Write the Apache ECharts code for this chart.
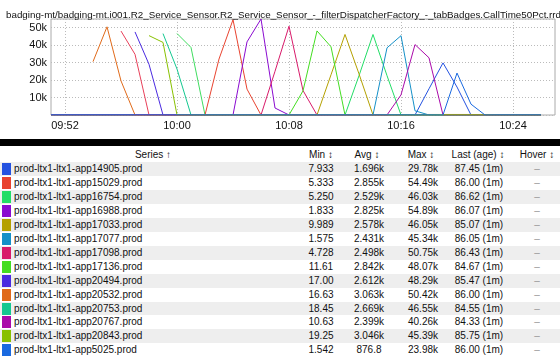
<!DOCTYPE html>
<html><head><meta charset="utf-8">
<script src="https://cdn.jsdelivr.net/npm/echarts@6/dist/echarts.min.js"></script>
<style>
html,body{margin:0;padding:0;width:560px;height:357px;overflow:hidden;background:#fff;font-family:"Liberation Sans",Arial,sans-serif;}
#chart{position:absolute;left:0;top:0;width:560px;height:138px;}
#band{position:absolute;left:0;top:139px;width:560px;height:7px;background:#000;}
.row{position:absolute;left:0;width:560px;height:14px;font-size:10px;line-height:14px;color:#111;}
.cell{position:absolute;top:0;width:70px;text-align:center;white-space:nowrap;}
.sw{position:absolute;left:2px;top:1px;width:9px;height:12px;}
.name{position:absolute;left:14px;top:0;white-space:nowrap;}
.hov{color:#999;}
</style></head>
<body>
<div id="chart"></div>
<div id="band"></div>
<div id="tbl"></div>
<script>
const titleText = "badging-mt/badging-mt.i001.R2_Service_Sensor.R2_Service_Sensor_-_filterDispatcherFactory_-_tabBadges.CallTime50Pct.rrd";
const times = ["09:51","09:52","09:53","09:54","09:55","09:56","09:57","09:58","09:59","10:00","10:01","10:02","10:03","10:04","10:05","10:06","10:07","10:08","10:09","10:10","10:11","10:12","10:13","10:14","10:15","10:16","10:17","10:18","10:19","10:20","10:21","10:22","10:23","10:24","10:25","10:26","10:27"];
const xTickLabels = ["09:52","10:00","10:08","10:16","10:24"];
const yTickValues = [10000,20000,30000,40000,50000];

// series values, one per minute from 09:51
const extraRed = [null,null,null,null,null,48000,34700,20,86,86,86,86,86,86,86,86,86,86,86,86,86,86,86,86,86,86,86,86,86,86,86,86,86,86,86,86];
const extraGreen = [null,null,null,null,null,null,null,null,null,46600,38600,12,86,86,86,86,86,86,86,86,86,86,86,86,86,86,86,86,86,86,86,86,86,86,86,86];
const app14905 = [86,86,86,86,86,86,86,86,86,86,86,86,86,86,86,86,86,86,86,86,86,86,86,86,86,86,7.933,15000,29780,16000,8,87.45,87.45,87.45,87.45,87.45];
const app15029 = [86,86,86,86,86,86,86,86,86,86,86,5.333,32000,54490,14800,6,86,86,86,86,86,86,86,86,86,86,86,86,86,86,86,86,86,86,86,86];
const app16754 = [86,86,86,86,86,86,86,86,86,86,86,86,86,86,86,86,86,86,86,86,86,5.25,22500,46030,22500,6,86.62,86.62,86.62,86.62,86.62,86.62,86.62,86.62,86.62,86.62];
const app16988 = [86,86,86,86,86,86,86,86,86,86,86,86,86,2,41800,54890,4000,1.833,86.07,86.07,86.07,86.07,86.07,86.07,86.07,86.07,86.07,86.07,86.07,86.07,86.07,86.07,86.07,86.07,86.07,86.07];
const app17033 = [86,86,86,86,86,86,86,86,86,86,86,86,86,86,86,86,86,86,86,9.989,23000,46050,23500,10,85.07,85.07,85.07,85.07,85.07,85.07,85.07,85.07,85.07,85.07,85.07,85.07];
const app17077 = [86,86,86,86,86,86,86,86,86,86,86,86,86,86,86,86,86,86,86,86,86,86,86,1.575,38400,45340,2400,2,86.05,86.05,86.05,86.05,86.05,86.05,86.05,86.05];
const app17098 = [86,86,86,86,86,86,86,86,86,86,86,86,86,86,86,4.728,25000,50750,14000,5,86.43,86.43,86.43,86.43,86.43,86.43,86.43,86.43,86.43,86.43,86.43,86.43,86.43,86.43,86.43,86.43];
const app17136 = [86,86,86,86,86,86,86,86,86,86,86,86,86,86,86,86,86,11.61,13800,48070,39000,12,84.67,84.67,84.67,84.67,84.67,84.67,84.67,84.67,84.67,84.67,84.67,84.67,84.67,84.67];
const app20494 = [null,null,null,null,null,null,47500,29000,17.00,85.47,85.47,85.47,85.47,85.47,85.47,85.47,85.47,85.47,85.47,85.47,85.47,85.47,85.47,85.47,85.47,85.47,85.47,85.47,85.47,85.47,85.47,85.47,85.47,85.47,85.47,85.47];
const app20532 = [null,null,null,30500,50420,19500,16.63,86,86,86,86,86,86,86,86,86,86,86,86,86,86,86,86,86,86,86,300,300,300,300,300,86,86,86,86,86];
const app20753 = [null,null,null,null,null,null,null,null,46550,26300,18.45,84.55,84.55,84.55,84.55,84.55,84.55,84.55,84.55,84.55,84.55,84.55,84.55,84.55,84.55,84.55,84.55,84.55,84.55,84.55,84.55,84.55,84.55,84.55,84.55,84.55];
const app20767 = [86,86,86,86,86,86,86,86,86,86,86,86,86,86,86,86,86,86,86,86,86,86,86,86,10.63,11500,40260,32700,11,84.33,84.33,84.33,84.33,84.33,84.33,84.33];
const app20843 = [null,null,null,null,null,null,null,45390,41500,19.25,85.75,85.75,85.75,85.75,85.75,85.75,85.75,85.75,85.75,85.75,85.75,85.75,85.75,85.75,85.75,85.75,85.75,85.75,85.75,85.75,85.75,85.75,85.75,85.75,85.75,85.75];
const app5025 = [86,86,86,86,86,86,86,86,86,86,86,86,86,86,86,86,86,86,86,86,86,86,86,86,86,86,86,86,1.542,23980,6200,2,86,86,86,86];

// table
const names = ["prod-ltx1-ltx1-app14905.prod","prod-ltx1-ltx1-app15029.prod","prod-ltx1-ltx1-app16754.prod","prod-ltx1-ltx1-app16988.prod","prod-ltx1-ltx1-app17033.prod","prod-ltx1-ltx1-app17077.prod","prod-ltx1-ltx1-app17098.prod","prod-ltx1-ltx1-app17136.prod","prod-ltx1-ltx1-app20494.prod","prod-ltx1-ltx1-app20532.prod","prod-ltx1-ltx1-app20753.prod","prod-ltx1-ltx1-app20767.prod","prod-ltx1-ltx1-app20843.prod","prod-ltx1-ltx1-app5025.prod"];
const mins = ["7.933","5.333","5.250","1.833","9.989","1.575","4.728","11.61","17.00","16.63","18.45","10.63","19.25","1.542"];
const avgs = ["1.696k","2.855k","2.529k","2.825k","2.578k","2.431k","2.498k","2.842k","2.612k","3.063k","2.669k","2.399k","3.046k","876.8"];
const maxs = ["29.78k","54.49k","46.03k","54.89k","46.05k","45.34k","50.75k","48.07k","48.29k","50.42k","46.55k","40.26k","45.39k","23.98k"];
const lasts = ["87.45 (1m)","86.00 (1m)","86.62 (1m)","86.07 (1m)","85.07 (1m)","86.05 (1m)","86.43 (1m)","84.67 (1m)","85.47 (1m)","86.00 (1m)","84.55 (1m)","84.33 (1m)","85.75 (1m)","86.00 (1m)"];
const colors = ["#2452e0","#e8432f","#22dd66","#8a0ad0","#b4a000","#1590c8","#d81a6a","#44dd22","#4a2ae0","#e06a1a","#14c890","#aa0aaa","#88c000","#1a6ae0"];
const seriesData = [app14905,app15029,app16754,app16988,app17033,app17077,app17098,app17136,app20494,app20532,app20753,app20767,app20843,app5025];
const headers = ["Min \u2195","Avg \u2195","Max \u2195","Last (age) \u2195","Hover \u2195"];

const FONT = '"Liberation Sans", Arial, sans-serif';
const series = [
  {name:"extra-a", data: extraRed, color:"#e8405a"},
  {name:"extra-b", data: extraGreen, color:"#40dd60"}
].concat(names.map((n,i)=>({name:n, data:seriesData[i], color:colors[i]})))
 .map(s=>({type:'line', name:s.name, data:s.data, symbol:'none', connectNulls:false,
   lineStyle:{width:1,color:s.color}, itemStyle:{color:s.color}}));

const chart = echarts.init(document.getElementById('chart'), null, {renderer:'canvas'});
chart.setOption({
  animation:false,
  title:{text:titleText, left:1, top:5, textStyle:{fontSize:9.8, fontWeight:'normal', color:'#111', fontFamily:FONT}},
  grid:{left:51, top:19, width:504, height:96, show:true, borderColor:'#aaa', borderWidth:1},
  xAxis:{type:'category', data:times, boundaryGap:false,
    axisLine:{show:false}, axisTick:{show:false},
    axisLabel:{interval:(i,v)=>xTickLabels.includes(v), color:'#111', fontSize:11, fontFamily:FONT, margin:5},
    splitLine:{show:true, interval:(i,v)=>xTickLabels.includes(v), lineStyle:{type:[1,2], color:'#bbb'}}},
  yAxis:{type:'value', min:0, max:'dataMax', interval:10000,
    axisLine:{show:false}, axisTick:{show:false},
    axisLabel:{formatter:v=>yTickValues.includes(v)?(v/1000)+'k':'', color:'#111', fontSize:11, fontFamily:FONT, margin:4},
    splitLine:{show:true, lineStyle:{type:[1,2], color:'#bbb'}}},
  series:series
});

// table
const tbl = document.getElementById('tbl');
const colCenters = [321,369,423,479,537];
const headCenters = [321,367,421,478,537];
function cell(parent, text, center, cls){
  const d=document.createElement('div'); d.className='cell'+(cls?' '+cls:''); d.textContent=text;
  d.style.left=(center-35)+'px'; parent.appendChild(d);
}
const head=document.createElement('div'); head.className='row';
head.style.top='147px'; head.style.height='15px'; head.style.lineHeight='15px';
cell(head,"Series \u2191",153);
headers.forEach((h,i)=>cell(head,h,headCenters[i]));
tbl.appendChild(head);
names.forEach((n,i)=>{
  const r=document.createElement('div'); r.className='row';
  r.style.top=Math.round(162+13.95*i)+'px';
  r.style.background = i%2===0 ? '#eeeeee' : '#ffffff';
  const sw=document.createElement('div'); sw.className='sw'; sw.style.background=colors[i]; r.appendChild(sw);
  const nm=document.createElement('div'); nm.className='name'; nm.textContent=n; r.appendChild(nm);
  cell(r,mins[i],colCenters[0]); cell(r,avgs[i],colCenters[1]); cell(r,maxs[i],colCenters[2]);
  cell(r,lasts[i],colCenters[3]); cell(r,"\u2013",colCenters[4],'hov');
  tbl.appendChild(r);
});
</script>
</body></html>
